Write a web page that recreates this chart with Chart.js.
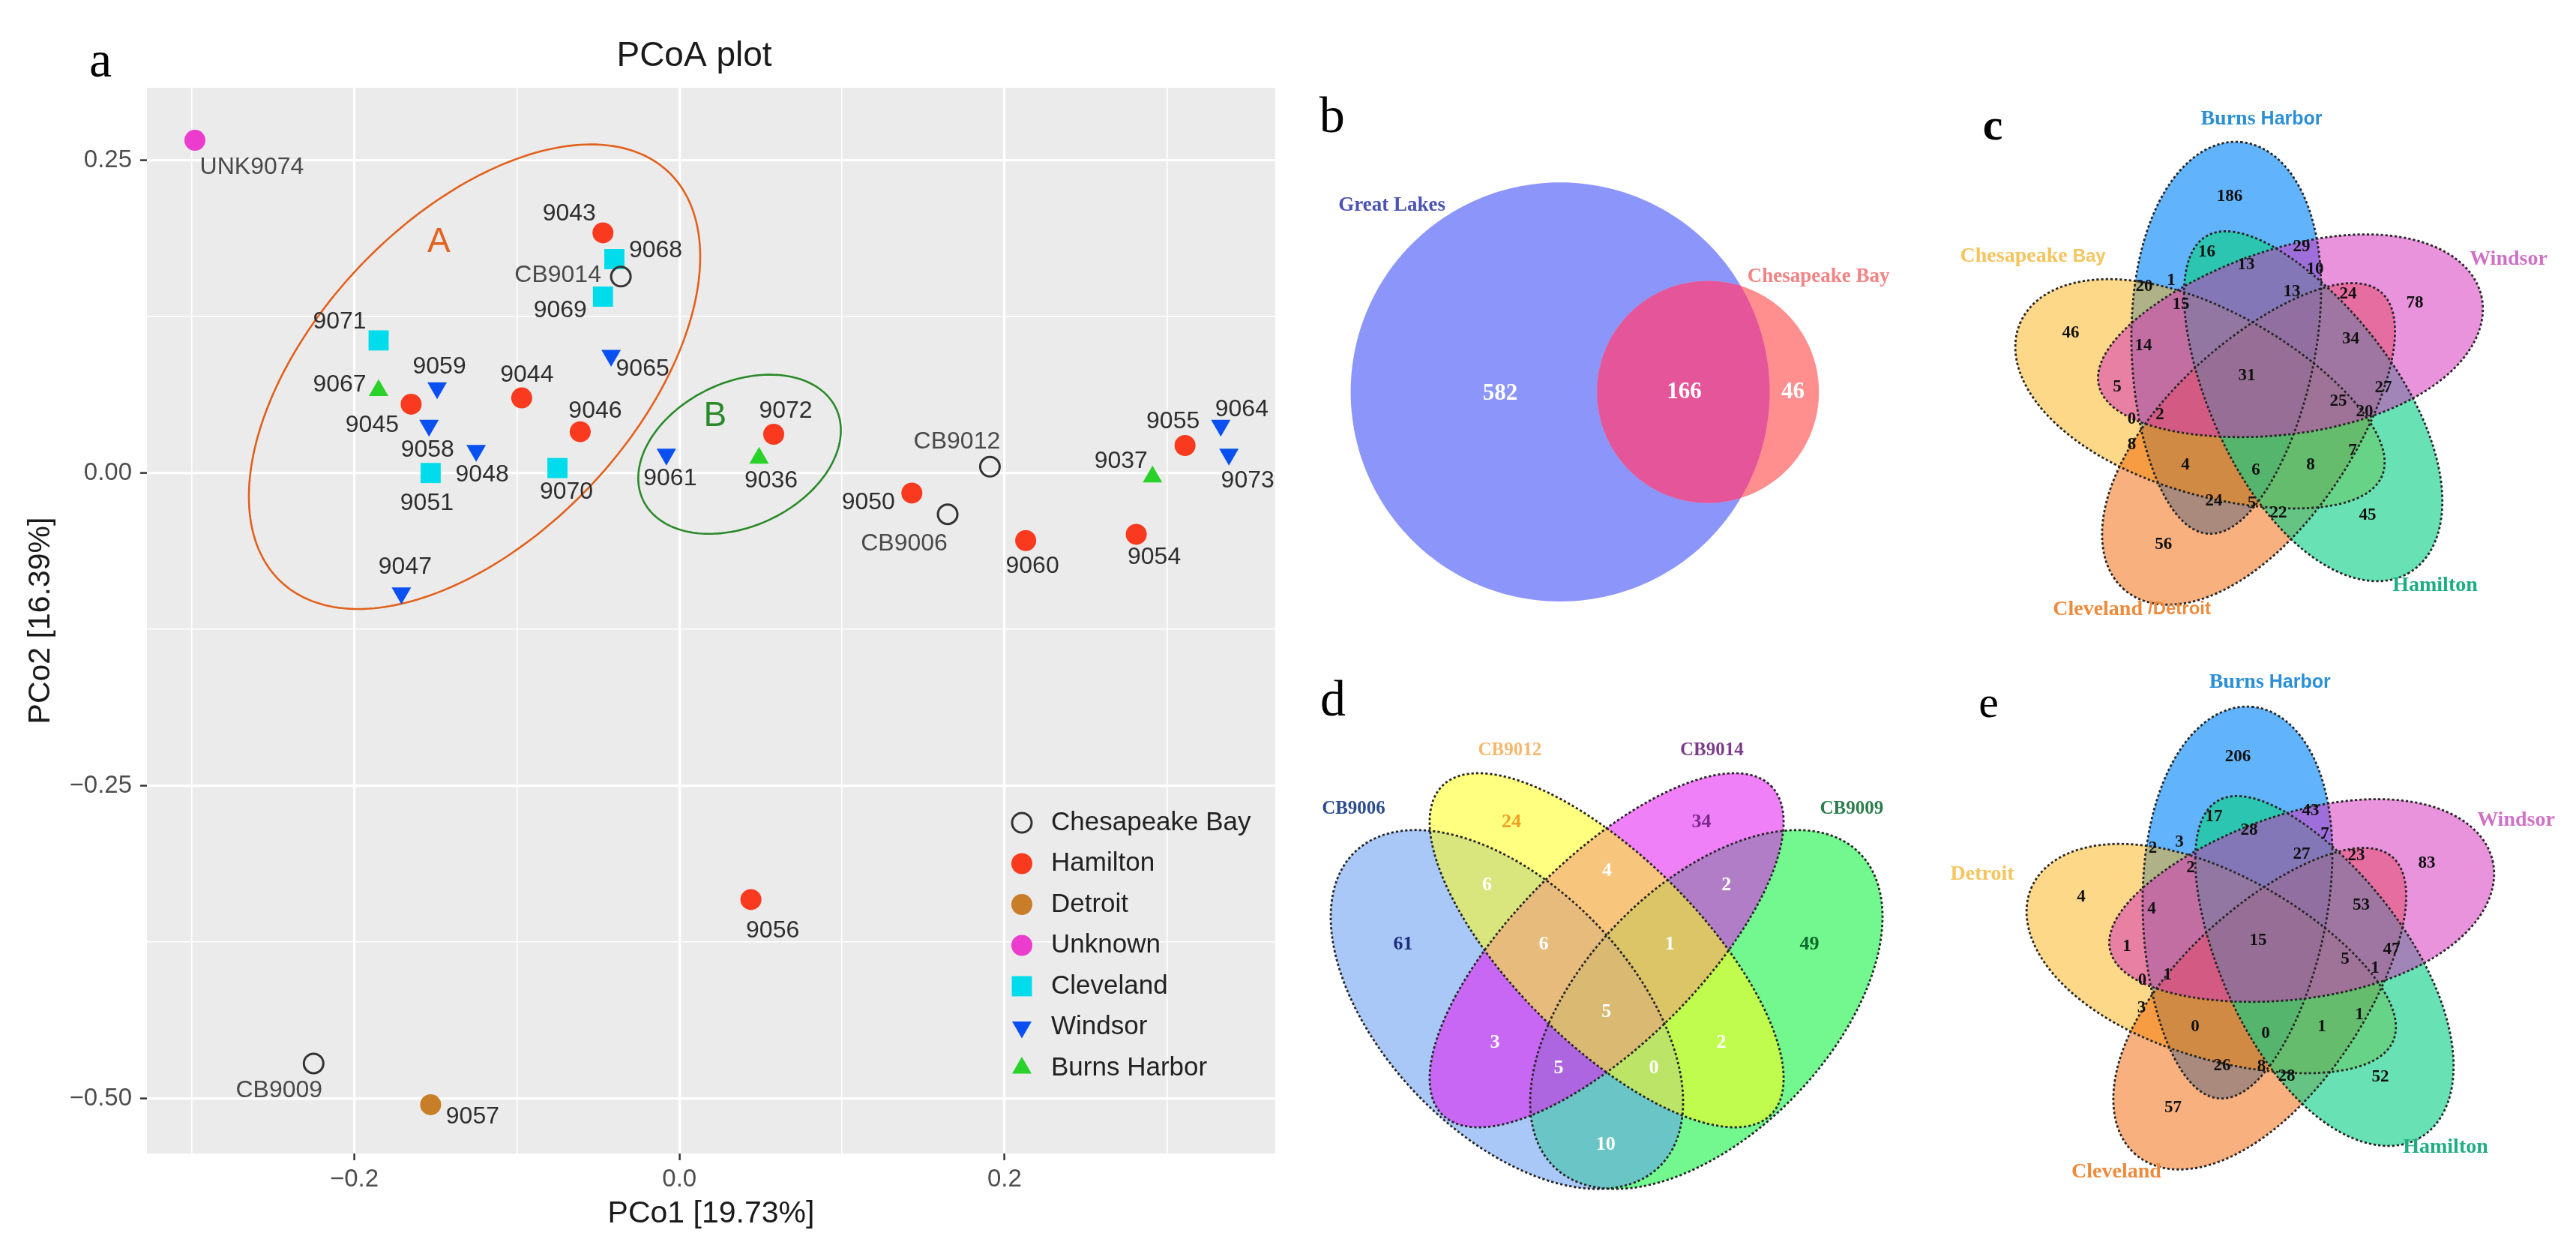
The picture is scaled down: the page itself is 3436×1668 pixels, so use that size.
<!DOCTYPE html>
<html>
<head>
<meta charset="utf-8">
<title>PCoA plot and Venn diagrams</title>
<script src="https://cdn.jsdelivr.net/npm/chart.js@4.4.1/dist/chart.umd.min.js"></script>
<style>
  html, body { margin: 0; padding: 0; background: #ffffff; }
  body { width: 3436px; height: 1668px; position: relative; overflow: hidden; }
  .panel { position: absolute; }
</style>
</head>
<body>
<div class="panel" style="left:0;top:0;width:1720px;height:1668px"><canvas id="pcoa"></canvas></div>
<div class="panel" style="left:1720px;top:0;width:840px;height:834px"><canvas id="vennB"></canvas></div>
<div class="panel" style="left:2560px;top:0;width:876px;height:834px"><canvas id="vennC"></canvas></div>
<div class="panel" style="left:1720px;top:834px;width:840px;height:834px"><canvas id="vennD"></canvas></div>
<div class="panel" style="left:2560px;top:834px;width:876px;height:834px"><canvas id="vennE"></canvas></div>
<script>
// ---------- data : PCoA scores ----------

const chesapeakeIds = ['CB9014', 'CB9012', 'CB9006', 'CB9009'];
const chesapeakeX = [-0.036, 0.191, 0.165, -0.225];
const chesapeakeY = [0.157, 0.005, -0.033, -0.472];

const hamiltonIds = ['9043', '9045', '9044', '9046', '9072', '9050', '9060', '9054', '9055', '9056'];
const hamiltonX = [-0.047, -0.165, -0.097, -0.061, 0.058, 0.143, 0.213, 0.281, 0.311, 0.044];
const hamiltonY = [0.192, 0.055, 0.060, 0.033, 0.031, -0.016, -0.054, -0.049, 0.022, -0.341];

const detroitIds = ['9057'];
const detroitX = [-0.153];
const detroitY = [-0.505];

const unknownIds = ['UNK9074'];
const unknownX = [-0.298];
const unknownY = [0.266];

const clevelandIds = ['9068', '9069', '9071', '9051', '9070'];
const clevelandX = [-0.040, -0.047, -0.185, -0.153, -0.075];
const clevelandY = [0.171, 0.141, 0.106, 0.000, 0.004];

const windsorIds = ['9065', '9059', '9058', '9048', '9061', '9047', '9064', '9073'];
const windsorX = [-0.042, -0.149, -0.154, -0.125, -0.008, -0.171, 0.333, 0.338];
const windsorY = [0.094, 0.068, 0.038, 0.018, 0.015, -0.096, 0.038, 0.015];

const burnsIds = ['9067', '9036', '9037'];
const burnsX = [-0.185, 0.049, 0.291];
const burnsY = [0.066, 0.012, -0.003];

const xTicks = [-0.3, -0.2, -0.1, 0, 0.1, 0.2, 0.3];
const xMajor = [-0.2, 0, 0.2];
const yTicks = [-0.5, -0.375, -0.25, -0.125, 0, 0.125, 0.25];
const yMajor = [-0.5, -0.25, 0, 0.25];

// ---------- data : Venn counts ----------

const bSets = ['Great Lakes', 'Chesapeake Bay'];
const bCounts = [582, 166, 46];

const cSets = ['Burns Harbor', 'Windsor', 'Hamilton', 'Cleveland /Detroit', 'Chesapeake Bay'];
const cCounts = [186, 16, 29, 13, 10, 20, 1, 13, 24, 78, 15, 46, 14, 34, 31, 5, 27, 25, 20, 0, 2, 8, 7, 4, 6, 8, 24, 5, 22, 45, 56];

const dSets = ['CB9006', 'CB9012', 'CB9014', 'CB9009'];
const dCounts = [61, 24, 34, 49, 6, 4, 2, 6, 1, 5, 3, 2, 5, 0, 10];

const eSets = ['Burns Harbor', 'Windsor', 'Detroit', 'Hamilton', 'Cleveland'];
const eCounts = [206, 17, 43, 28, 7, 2, 3, 27, 23, 83, 2, 4, 4, 53, 15, 1, 47, 5, 1, 0, 1, 3, 1, 0, 0, 1, 26, 8, 28, 52, 57];

// ---------- layout ----------

const SANS = '"Liberation Sans", Arial, sans-serif';
const SERIF = '"Liberation Serif", "Times New Roman", serif';

// label offsets from each point, in pixels
const labelShift = {
  'UNK9074': [76, 36], '9043': [-45, -25], '9068': [55, -11], 'CB9014': [-84, -2], '9069': [-57, 19],
  '9065': [42, 18], '9071': [-52, -25], '9059': [3, -28], '9067': [-52, -7], '9045': [-52, 28],
  '9044': [7, -30], '9058': [-2, 33], '9046': [20, -27], '9048': [8, 32], '9051': [-5, 40],
  '9070': [12, 32], '9061': [5, 32], '9072': [16, -31], '9036': [16, 30], '9047': [5, -35],
  '9050': [-58, 13], 'CB9006': [-58, 39], 'CB9012': [-44, -33], '9060': [9, 34], '9054': [24, 31],
  '9055': [-16, -32], '9037': [-42, -21], '9064': [28, -21], '9073': [25, 35], '9056': [29, 42],
  'CB9009': [-46, 36], '9057': [56, 16]
};

// cluster rings: centre plus two half-axis vectors, in data units
const rings = [
  { name: 'A', color: '#e2611c', cx: -0.126, cy: 0.077, ux: 0.1195, uy: 0.1634, vx: 0.0706, vy: -0.0882, lx: -0.148, ly: 0.184 },
  { name: 'B', color: '#2a8a2a', cx: 0.037, cy: 0.015, ux: 0.0594, uy: 0.0365, vx: 0.0188, vy: -0.0521, lx: 0.022, ly: 0.045 }
];

const groups = [
  { name: 'Chesapeake Bay', ids: chesapeakeIds, xs: chesapeakeX, ys: chesapeakeY, shape: 'circle', r: 13, rot: 0, fill: 'rgba(0,0,0,0)', line: '#333333', bw: 3 },
  { name: 'Hamilton', ids: hamiltonIds, xs: hamiltonX, ys: hamiltonY, shape: 'circle', r: 14, rot: 0, fill: '#fa3a1e', line: '#fa3a1e', bw: 0 },
  { name: 'Detroit', ids: detroitIds, xs: detroitX, ys: detroitY, shape: 'circle', r: 14, rot: 0, fill: '#c87d28', line: '#c87d28', bw: 0 },
  { name: 'Unknown', ids: unknownIds, xs: unknownX, ys: unknownY, shape: 'circle', r: 14, rot: 0, fill: '#eb3ccd', line: '#eb3ccd', bw: 0 },
  { name: 'Cleveland', ids: clevelandIds, xs: clevelandX, ys: clevelandY, shape: 'rect', r: 19, rot: 0, fill: '#00dceb', line: '#00dceb', bw: 0 },
  { name: 'Windsor', ids: windsorIds, xs: windsorX, ys: windsorY, shape: 'triangle', r: 15, rot: 180, fill: '#0a50f0', line: '#0a50f0', bw: 0 },
  { name: 'Burns Harbor', ids: burnsIds, xs: burnsX, ys: burnsY, shape: 'triangle', r: 15, rot: 0, fill: '#28d228', line: '#28d228', bw: 0 }
];

function isMajor(v, list) { return list.some(m => Math.abs(m - v) < 1e-9); }
function fmt(v, d) { return (v < -1e-9 ? '\u2212' : '') + Math.abs(v).toFixed(d); }

function drawMarker(ctx, g, x, y) {
  ctx.save();
  ctx.fillStyle = g.fill;
  ctx.strokeStyle = g.line;
  ctx.lineWidth = g.bw;
  ctx.beginPath();
  if (g.shape === 'circle') {
    ctx.arc(x, y, g.r, 0, Math.PI * 2);
  } else if (g.shape === 'rect') {
    const s = g.r * Math.SQRT1_2;
    ctx.rect(x - s, y - s, 2 * s, 2 * s);
  } else {
    let a = g.rot * Math.PI / 180;
    ctx.moveTo(x + Math.sin(a) * g.r, y - Math.cos(a) * g.r);
    for (let k = 0; k < 2; k++) {
      a += 2 * Math.PI / 3;
      ctx.lineTo(x + Math.sin(a) * g.r, y - Math.cos(a) * g.r);
    }
    ctx.closePath();
  }
  ctx.fill();
  if (g.bw > 0) ctx.stroke();
  ctx.restore();
}

// ---------- panel a : PCoA ----------

const pcoaPlugin = {
  id: 'pcoaExtras',
  beforeDraw(chart) {
    const { ctx, chartArea: a } = chart;
    ctx.save();
    ctx.fillStyle = '#ebebeb';
    ctx.fillRect(a.left, a.top, a.right - a.left, a.bottom - a.top);
    ctx.restore();
  },
  beforeDatasetsDraw(chart) {
    const { ctx, scales: { x, y } } = chart;
    ctx.save();
    ctx.lineWidth = 2.6;
    rings.forEach(r => {
      ctx.strokeStyle = r.color;
      ctx.beginPath();
      for (let i = 0; i <= 240; i++) {
        const t = i / 240 * Math.PI * 2;
        const px = x.getPixelForValue(r.cx + r.ux * Math.cos(t) + r.vx * Math.sin(t));
        const py = y.getPixelForValue(r.cy + r.uy * Math.cos(t) + r.vy * Math.sin(t));
        if (i === 0) ctx.moveTo(px, py); else ctx.lineTo(px, py);
      }
      ctx.closePath();
      ctx.stroke();
      ctx.fillStyle = r.color;
      ctx.font = '46px ' + SANS;
      ctx.textAlign = 'center';
      ctx.textBaseline = 'middle';
      ctx.fillText(r.name, x.getPixelForValue(r.lx), y.getPixelForValue(r.ly));
    });
    ctx.restore();
  },
  afterDatasetsDraw(chart) {
    const { ctx } = chart;
    ctx.save();
    ctx.font = '32px ' + SANS;
    ctx.textAlign = 'center';
    ctx.textBaseline = 'middle';
    groups.forEach((g, di) => {
      const meta = chart.getDatasetMeta(di);
      meta.data.forEach((pt, i) => {
        const id = g.ids[i];
        const off = labelShift[id] || [0, 30];
        ctx.fillStyle = /^[A-Z]/.test(id) ? '#4a4a4a' : '#2e2e2e';
        ctx.fillText(id, pt.x + off[0], pt.y + off[1]);
      });
    });
    ctx.restore();
  },
  afterDraw(chart) {
    const { ctx, chartArea: a } = chart;
    ctx.save();
    // legend inside the panel
    ctx.font = '35px ' + SANS;
    ctx.textAlign = 'left';
    ctx.textBaseline = 'middle';
    groups.forEach((g, i) => {
      const yy = 1097 + i * 54.5;
      drawMarker(ctx, g, 1363, yy);
      ctx.fillStyle = '#222222';
      ctx.fillText(g.name, 1402, yy);
    });
    // titles
    ctx.textAlign = 'center';
    ctx.fillStyle = '#1a1a1a';
    ctx.font = '46px ' + SANS;
    ctx.fillText('PCoA plot', 926, 75);
    ctx.font = '41px ' + SANS;
    ctx.fillText('PCo1 [19.73%]', (a.left + a.right) / 2, 1619);
    ctx.save();
    ctx.translate(55, (a.top + a.bottom) / 2);
    ctx.rotate(-Math.PI / 2);
    ctx.fillText('PCo2 [16.39%]', 0, 0);
    ctx.restore();
    ctx.font = '68px ' + SERIF;
    ctx.fillStyle = '#000000';
    ctx.fillText('a', 134, 84);
    ctx.restore();
  }
};

new Chart(document.getElementById('pcoa'), {
  type: 'scatter',
  data: {
    datasets: groups.map(g => ({
      label: g.name,
      data: g.xs.map((v, i) => ({ x: v, y: g.ys[i] })),
      pointStyle: g.shape,
      pointRadius: g.r,
      pointRotation: g.rot,
      backgroundColor: g.fill,
      borderColor: g.line,
      borderWidth: g.bw,
      pointHoverRadius: g.r
    }))
  },
  options: {
    responsive: true,
    maintainAspectRatio: false,
    animation: false,
    layout: { padding: { left: 0, top: 117, right: 11, bottom: 0 } },
    plugins: { legend: { display: false }, tooltip: { enabled: false } },
    scales: {
      x: {
        type: 'linear', min: -0.3275, max: 0.3665,
        afterBuildTicks: s => { s.ticks = xTicks.map(v => ({ value: v })); },
        afterFit: s => { s.height = 130; },
        ticks: {
          callback: v => isMajor(v, xMajor) ? fmt(v, 1) : '',
          font: { family: SANS, size: 33 }, color: '#4d4d4d', padding: 6,
          maxRotation: 0, autoSkip: false
        },
        grid: {
          color: '#ffffff',
          lineWidth: c => (c.tick && isMajor(c.tick.value, xMajor)) ? 3.2 : 1.6,
          tickColor: c => (c.tick && isMajor(c.tick.value, xMajor)) ? '#333333' : 'rgba(0,0,0,0)',
          tickLength: 9, tickWidth: 2.5
        },
        border: { display: false }
      },
      y: {
        type: 'linear', min: -0.544, max: 0.308,
        afterBuildTicks: s => { s.ticks = yTicks.map(v => ({ value: v })); },
        afterFit: s => { s.width = 196; },
        ticks: {
          callback: v => isMajor(v, yMajor) ? fmt(v, 2) : '',
          font: { family: SANS, size: 33 }, color: '#4d4d4d', padding: 11, autoSkip: false
        },
        grid: {
          color: '#ffffff',
          lineWidth: c => (c.tick && isMajor(c.tick.value, yMajor)) ? 3.2 : 1.6,
          tickColor: c => (c.tick && isMajor(c.tick.value, yMajor)) ? '#333333' : 'rgba(0,0,0,0)',
          tickLength: 9, tickWidth: 2.5
        },
        border: { display: false }
      }
    }
  },
  plugins: [pcoaPlugin]
});

// ---------- Venn panels ----------

function tracePath(ctx, sx, sy, s) {
  const rot = s.rot * Math.PI / 180;
  const cr = Math.cos(rot), sr = Math.sin(rot);
  ctx.beginPath();
  for (let i = 0; i <= 200; i++) {
    const t = i / 200 * Math.PI * 2;
    const lx = s.a * Math.cos(t);
    const ly = s.b * Math.sin(t) * (1 + (s.egg || 0) * Math.cos(t));
    const px = sx.getPixelForValue(s.cx + lx * cr - ly * sr);
    const py = sy.getPixelForValue(s.cy + lx * sr + ly * cr);
    if (i === 0) ctx.moveTo(px, py); else ctx.lineTo(px, py);
  }
  ctx.closePath();
}

function vennPlugin(cfg) {
  return {
    id: 'venn',
    beforeDatasetsDraw(chart) {
      const { ctx, scales: { x, y } } = chart;
      ctx.save();
      cfg.shapes.forEach(s => { tracePath(ctx, x, y, s); ctx.fillStyle = s.fill; ctx.fill(); });
      if (cfg.overlap) {
        ctx.save();
        tracePath(ctx, x, y, cfg.shapes[0]);
        ctx.clip();
        tracePath(ctx, x, y, cfg.shapes[1]);
        ctx.fillStyle = cfg.overlap;
        ctx.fill();
        ctx.restore();
      }
      if (cfg.outline) {
        ctx.setLineDash([3.2, 3]);
        ctx.lineWidth = 2.8;
        ctx.strokeStyle = '#262626';
        cfg.shapes.forEach(s => { tracePath(ctx, x, y, s); ctx.stroke(); });
      }
      ctx.restore();
    },
    afterDatasetsDraw(chart) {
      const { ctx, scales: { x, y } } = chart;
      const meta = chart.getDatasetMeta(0);
      ctx.save();
      ctx.textAlign = 'center';
      ctx.textBaseline = 'middle';
      ctx.font = cfg.countFont;
      meta.data.forEach((pt, i) => {
        ctx.fillStyle = cfg.countColors ? cfg.countColors[i] : cfg.countColor;
        ctx.fillText(String(cfg.counts[i]), pt.x, pt.y);
      });
      // set names, possibly built from several font pieces
      cfg.setNames.forEach((name, i) => {
        const parts = cfg.nameParts ? cfg.nameParts[i] : [[name, cfg.nameFont]];
        ctx.textAlign = 'left';
        let total = 0;
        parts.forEach(p => { ctx.font = p[1]; total += ctx.measureText(p[0]).width; });
        let px = x.getPixelForValue(cfg.namePos[i][0]) - total / 2;
        const py = y.getPixelForValue(cfg.namePos[i][1]);
        ctx.fillStyle = cfg.nameColors[i];
        parts.forEach(p => { ctx.font = p[1]; ctx.fillText(p[0], px, py); px += ctx.measureText(p[0]).width; });
      });
      ctx.textAlign = 'center';
      ctx.fillStyle = '#000000';
      ctx.font = cfg.letterFont;
      ctx.fillText(cfg.letter, x.getPixelForValue(cfg.letterPos[0]), y.getPixelForValue(cfg.letterPos[1]));
      ctx.restore();
    }
  };
}

function makeVenn(id, w, h, cfg) {
  return new Chart(document.getElementById(id), {
    type: 'scatter',
    data: { datasets: [{ data: cfg.counts.map((v, i) => ({ x: cfg.countPos[i][0], y: cfg.countPos[i][1] })), pointRadius: 0, pointHoverRadius: 0 }] },
    options: {
      responsive: true,
      maintainAspectRatio: false,
      animation: false,
      layout: { padding: 0 },
      plugins: { legend: { display: false }, tooltip: { enabled: false } },
      scales: {
        x: { type: 'linear', display: false, min: 0, max: w },
        y: { type: 'linear', display: false, min: 0, max: h, reverse: true }
      }
    },
    plugins: [vennPlugin(cfg)]
  });
}

// five-set petals, fills given as Windsor, Hamilton, Cleveland, Chesapeake, Burns
function pentaShapes(cx, cy, fills) {
  return fills.map((fill, k) => {
    const phi = (-51.5 + 72 * k) * Math.PI / 180;
    return { cx: cx + 75 * Math.cos(phi), cy: cy + 75 * Math.sin(phi), a: 262, b: 124, rot: -13.2 + 72 * k, egg: 0.14, fill };
  }).reverse();
}
const pentaFills = ['rgba(212,48,190,0.52)', 'rgba(11,208,134,0.62)', 'rgba(241,97,0,0.5)', 'rgba(251,177,17,0.5)', 'rgba(0,132,248,0.62)'];
const serifB = s => 'bold ' + s + 'px ' + SERIF;
const sansB = s => 'bold ' + s + 'px ' + SANS;

// b
makeVenn('vennB', 840, 834, {
  shapes: [
    { cx: 361, cy: 522.6, a: 279.4, b: 279.4, rot: 0, fill: '#8c96fa' },
    { cx: 558.2, cy: 522.6, a: 148, b: 148, rot: 0, fill: '#ff8f8f' }
  ],
  overlap: '#e5559a',
  outline: false,
  counts: bCounts,
  countPos: [[281, 525], [526.5, 523], [671.5, 523]],
  countFont: serifB(31), countColor: '#ffffff',
  setNames: bSets,
  namePos: [[136.7, 273.7], [705.7, 368.9]],
  nameFont: serifB(27), nameColors: ['#4b53b3', '#f38383'],
  letter: 'b', letterPos: [56.8, 158], letterFont: '68px ' + SERIF
});

// c
makeVenn('vennC', 876, 834, {
  shapes: pentaShapes(448, 513, pentaFills),
  outline: true,
  counts: cCounts,
  countPos: [[414, 262], [383.5, 336], [510, 329], [436, 353], [528, 359], [300, 382], [336, 374], [497, 389],
    [572, 392], [661, 404], [349, 406], [202, 444], [299, 461], [575.5, 452], [437, 501], [264, 516],
    [619, 517.5], [559, 535], [594, 549], [283.5, 559], [321, 553], [283.5, 593], [578, 601], [355, 620],
    [449, 627], [522, 620], [393, 668], [443.6, 671], [479, 684], [598, 687], [325.7, 726]],
  countFont: serifB(23), countColor: '#111111',
  setNames: cSets,
  nameParts: [[['Burns ', serifB(28)], ['Harbor', sansB(25)]], [['Windsor', serifB(28)]], [['Hamilton', serifB(28)]],
    [['Cleveland ', serifB(28)], ['/Detroit', sansB(24)]], [['Chesapeake ', serifB(28)], ['Bay', sansB(24)]]],
  namePos: [[456.5, 159], [786, 346], [688, 780.5], [283.6, 812.6], [151.6, 342]],
  nameColors: ['#2b8fd6', '#cf72c6', '#1fae84', '#ef8a3c', '#f4c55e'],
  letter: 'c', letterPos: [98, 170], letterFont: 'bold 60px ' + SERIF
});

// d
makeVenn('vennD', 840, 834, {
  shapes: [
    { cx: 556, cy: 512, a: 292, b: 165, rot: -46, egg: 0, fill: 'rgba(0,242,53,0.55)' },
    { cx: 290, cy: 512, a: 292, b: 165, rot: 46, egg: 0, fill: 'rgba(98,155,242,0.55)' },
    { cx: 423, cy: 433, a: 310, b: 124, rot: -45, egg: 0, fill: 'rgba(228,24,242,0.55)' },
    { cx: 423, cy: 433, a: 310, b: 124, rot: 45, egg: 0, fill: 'rgba(255,255,24,0.55)' }
  ],
  outline: true,
  counts: dCounts,
  countPos: [[151.6, 425], [296, 262], [549.6, 262], [693.5, 425], [263.5, 346.4], [423.4, 327.2], [582.7, 346.4],
    [339, 425], [507.2, 425], [422.8, 514.8], [274, 556], [576, 556], [359, 590.7], [486, 590.7], [421.7, 692.3]],
  countFont: serifB(26),
  countColors: ['#1d2d7d', '#f0a020', '#7b2a8c', '#0b6b2b', '#ffffff', '#ffffff', '#ffffff', '#ffffff', '#ffffff',
    '#ffffff', '#ffffff', '#ffffff', '#ffffff', '#ffffff', '#ffffff'],
  setNames: dSets,
  namePos: [[85.5, 244.8], [293.8, 166.8], [563.4, 166.8], [749.8, 244.8]],
  nameFont: serifB(25), nameColors: ['#2c4c8c', '#f6b86e', '#7c3c8c', '#2c7c4c'],
  letter: 'd', letterPos: [58, 102], letterFont: '68px ' + SERIF
});

// e
makeVenn('vennE', 876, 834, {
  shapes: pentaShapes(463, 432, pentaFills),
  outline: true,
  counts: eCounts,
  countPos: [[425, 175], [393, 255.5], [522, 247], [440, 273], [541, 278], [311.6, 297], [347, 289], [510, 305],
    [583, 307], [677, 317], [362, 323], [216, 362.5], [310, 378], [589.6, 372.6], [452, 420], [277, 428],
    [630, 432], [568, 445], [608, 457], [297.6, 473], [331, 466], [296.5, 510.5], [587, 518.6], [368, 534.6],
    [462, 543.7], [537, 534.6], [404, 587], [456.5, 588], [490, 601], [615, 602.5], [338.6, 643]],
  countFont: serifB(23), countColor: '#111111',
  setNames: eSets,
  nameParts: [[['Burns ', serifB(28)], ['Harbor', sansB(25)]], [['Windsor', serifB(28)]], [['Detroit', serifB(28)]],
    [['Hamilton', serifB(28)]], [['Cleveland', serifB(28)]]],
  namePos: [[467.7, 76], [796, 260], [84, 331.5], [702, 696], [263, 728.7]],
  nameColors: ['#2b8fd6', '#cf72c6', '#f4c55e', '#1fae84', '#ef8a3c'],
  letter: 'e', letterPos: [92.6, 106], letterFont: '60px ' + SERIF
});
</script>
</body>
</html>
